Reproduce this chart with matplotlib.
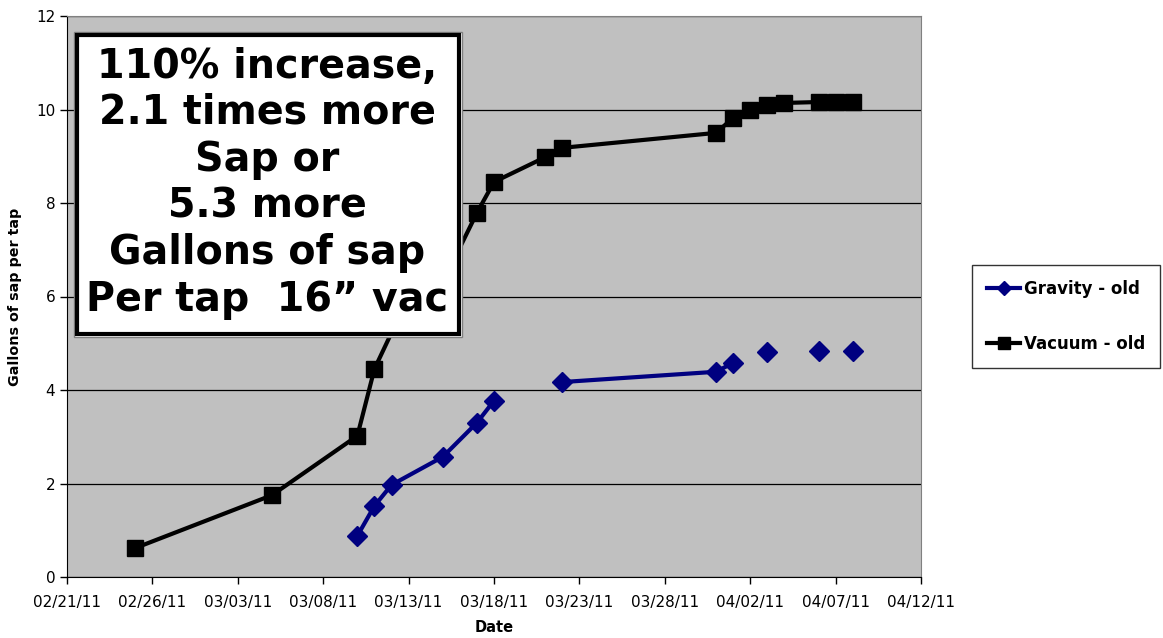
import numpy as np
import pandas as pd
import matplotlib
matplotlib.use('Agg')
import matplotlib.pyplot as plt
import matplotlib.dates as mdates
from matplotlib.patches import Rectangle

vac_dates = ['2011-02-25', '2011-03-05', '2011-03-10', '2011-03-11', '2011-03-13', '2011-03-15',
             '2011-03-17', '2011-03-18', '2011-03-21', '2011-03-22', '2011-03-31', '2011-04-01',
             '2011-04-02', '2011-04-03', '2011-04-04', '2011-04-06', '2011-04-07', '2011-04-08']
vac_vals = [0.62, 1.75, 3.02, 4.45, 6.0, 6.3, 7.79, 8.45, 8.98, 9.18, 9.50, 9.82,
            9.99, 10.10, 10.14, 10.16, 10.16, 10.16]

grav_dates = ['2011-03-10', '2011-03-11', '2011-03-12', '2011-03-15', '2011-03-17', '2011-03-18',
              '2011-03-21', '2011-03-22', '2011-03-31', '2011-04-01', '2011-04-02', '2011-04-03',
              '2011-04-04', '2011-04-06', '2011-04-07', '2011-04-08']
grav_vals = [0.88, 1.52, 1.97, 2.57, 3.30, 3.77, np.nan, 4.17, 4.39, 4.58, np.nan, 4.81,
             np.nan, 4.83, np.nan, 4.83]

note_lines = ['110% increase,', '2.1 times more', 'Sap or', '5.3 more',
              'Gallons of sap', 'Per tap  16\u201d vac']

vac_dates = pd.to_datetime(vac_dates)
grav_dates = pd.to_datetime(grav_dates)

fig = plt.figure(figsize=(11.63, 6.38), dpi=100)
ax = fig.add_axes([67/1163, 1 - 577/638, 854/1163, 561/638])
ax.set_facecolor('#C0C0C0')

ax.plot(grav_dates, grav_vals, marker='D', markersize=10, color='#000080', linewidth=3,
        label='Gravity - old', zorder=3)
ax.plot(vac_dates, vac_vals, marker='s', markersize=11.5, color='black', linewidth=3,
        label='Vacuum - old', zorder=3)

ax.set_xlim(pd.Timestamp('2011-02-21'), pd.Timestamp('2011-04-12'))
ax.set_ylim(0, 12)
ax.set_yticks(range(0, 13, 2))
ax.set_xticks(pd.date_range('2011-02-21', '2011-04-12', freq='5D'))
ax.xaxis.set_major_formatter(mdates.DateFormatter('%m/%d/%y'))
ax.tick_params(axis='both', direction='out', length=5, labelsize=11, width=1)
ax.tick_params(axis='x', pad=8)

ax.yaxis.grid(True, color='black', linewidth=0.9)
ax.set_axisbelow(True)
ax.spines['top'].set_color('#808080')
ax.spines['right'].set_color('#808080')
ax.spines['left'].set_color('black')
ax.spines['bottom'].set_color('black')

fig.text(494/1163, 1 - 628/638, 'Date', ha='center', va='center', fontsize=10.5, fontweight='bold')
fig.text(15/1163, 1 - 297/638, 'Gallons of sap per tap', ha='center', va='center',
         rotation=90, fontsize=10.3, fontweight='bold')

# annotation box sitting over the curve
x0, x1 = (74 - 67) / 854, (462 - 67) / 854
y0, y1 = (577 - 337) / 561, (577 - 32) / 561
ax.add_patch(Rectangle((x0, y0), x1 - x0, y1 - y0, transform=ax.transAxes,
                       facecolor='white', edgecolor='#808080', linewidth=1, zorder=5))
ax.add_patch(Rectangle((x0 + 3/854, y0 + 3/561), x1 - x0 - 6/854, y1 - y0 - 6/561,
                       transform=ax.transAxes, facecolor='white', edgecolor='black',
                       linewidth=3, zorder=6))
line_y = [67, 113, 160, 207, 253, 300]
for txt, yy in zip(note_lines, line_y):
    ax.text((267 - 67) / 854, (577 - yy) / 561, txt, transform=ax.transAxes, ha='center',
            va='center', fontsize=28.5, fontweight='bold', zorder=7)

leg = ax.legend(loc='upper left', bbox_to_anchor=(972/1163, 1 - 265/638),
                bbox_transform=fig.transFigure, borderaxespad=0, frameon=True, fancybox=False,
                prop={'size': 12, 'weight': 'bold'}, labelspacing=2.2, handlelength=2.0,
                handletextpad=0.2, borderpad=0.9, markerscale=0.7)
leg.get_frame().set_edgecolor('black')
leg.get_frame().set_linewidth(1)

plt.savefig('out.png', dpi=100)
